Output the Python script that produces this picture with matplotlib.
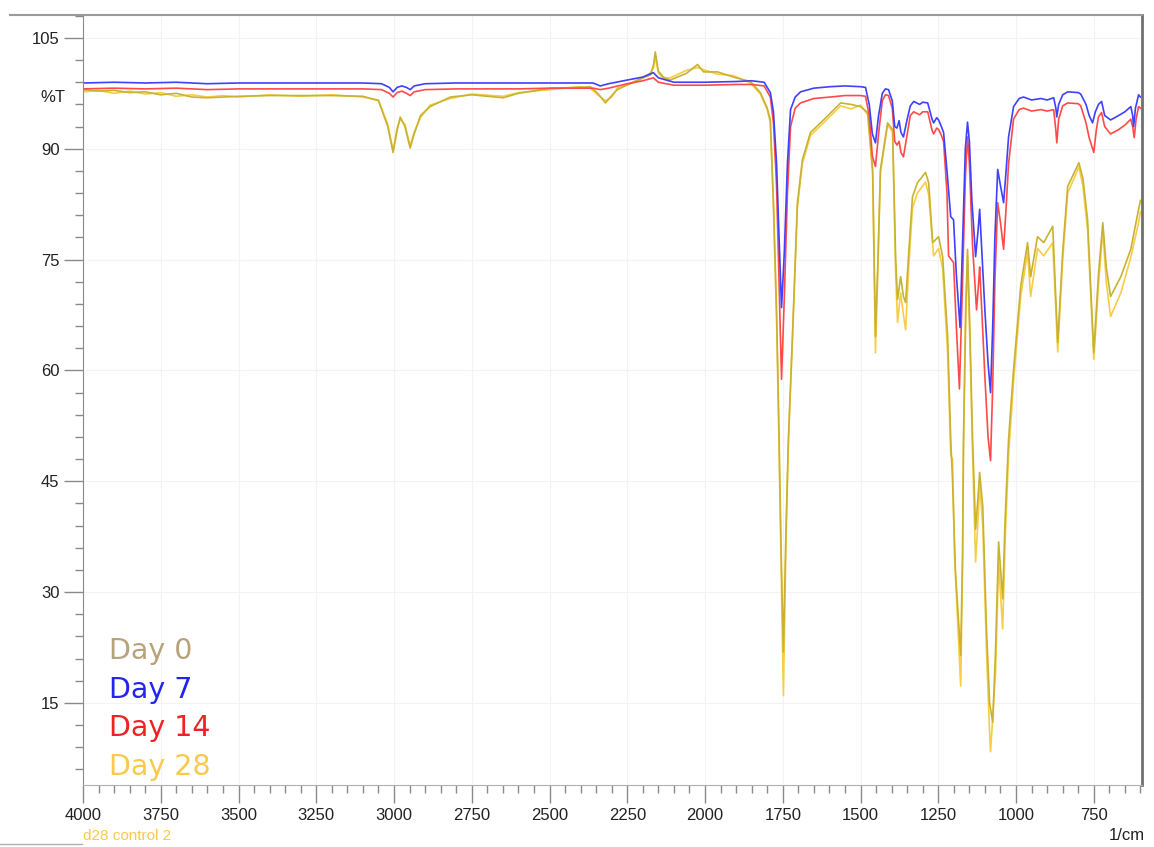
import numpy as np
import matplotlib
matplotlib.use("Agg")
import matplotlib.pyplot as plt
from matplotlib.lines import Line2D
from matplotlib.ticker import MultipleLocator

# Day 7 (blue)
wn_d7 = [4000, 3900, 3800, 3700, 3600, 3500, 3400, 3300, 3200, 3100, 3040, 3015, 3003, 2990, 2975,
         2960, 2948, 2935, 2900, 2800, 2700, 2600, 2500, 2400, 2360, 2337, 2310, 2250, 2200, 2166,
         2150, 2100, 2000, 1900, 1850, 1810, 1790, 1780, 1770, 1762, 1754, 1745, 1735, 1725, 1710,
         1693, 1650, 1597, 1550, 1500, 1484, 1472, 1462, 1452, 1442, 1430, 1420, 1410, 1398, 1390,
         1383, 1376, 1370, 1362, 1350, 1340, 1329, 1310, 1300, 1284, 1270, 1265, 1255, 1249, 1240,
         1233, 1222, 1210, 1201, 1192, 1180, 1170, 1163, 1156, 1150, 1142, 1130, 1122, 1117, 1110,
         1100, 1090, 1082, 1075, 1068, 1059, 1050, 1040, 1032, 1024, 1008, 990, 976, 950, 920,
         900, 879, 872, 869, 863, 850, 834, 800, 792, 775, 765, 754, 745, 735, 725, 715, 696, 670,
         650, 631, 625, 622, 616, 606, 600]
t_d7 = [98.9, 99.0, 98.9, 99.0, 98.8, 98.9, 98.9, 98.9, 98.9, 98.9, 98.8, 98.3, 97.7, 98.3, 98.5,
        98.3, 98.0, 98.5, 98.8, 98.9, 98.9, 98.9, 98.9, 98.9, 98.9, 98.5, 98.8, 99.3, 99.7, 100.3,
        99.6, 99.0, 99.0, 99.1, 99.2, 99.0, 97.6, 95.0, 88.0, 78.0, 68.5, 76.0, 88.0, 95.3, 97.0,
        97.7, 98.2, 98.4, 98.5, 98.4, 98.3, 96.0, 92.0, 90.8, 94.5, 97.5, 98.1, 98.0, 96.5, 93.0,
        92.8, 93.8, 92.2, 91.6, 94.0, 95.8, 96.4, 96.0, 96.3, 96.2, 94.0, 93.5, 94.2, 93.9, 93.0,
        92.2, 87.0, 80.8, 80.4, 73.0, 65.8, 80.0, 90.0, 93.6, 91.0, 83.0, 75.4, 79.0, 81.8, 76.0,
        68.0, 61.0, 57.0, 66.0, 78.0, 87.2, 85.0, 82.7, 87.0, 91.6, 95.7, 96.8, 97.0, 96.6, 96.8,
        96.6, 96.9, 95.5, 94.3, 96.0, 97.3, 97.7, 97.6, 97.4, 96.0, 94.5, 93.5, 95.0, 96.0, 96.4,
        94.5, 93.9, 94.5, 95.0, 95.7, 94.5, 93.0, 95.5, 97.3, 97.0]

# Day 14 (red)
wn_d14 = [4000, 3900, 3800, 3700, 3600, 3500, 3400, 3300, 3200, 3100, 3040, 3015, 3003, 2990, 2975,
          2960, 2948, 2935, 2900, 2800, 2700, 2600, 2500, 2400, 2360, 2337, 2310, 2250, 2200, 2166,
          2150, 2100, 2000, 1900, 1850, 1810, 1790, 1780, 1770, 1762, 1754, 1745, 1735, 1725, 1710,
          1693, 1650, 1597, 1550, 1500, 1484, 1472, 1462, 1452, 1442, 1430, 1420, 1410, 1398, 1390,
          1383, 1376, 1370, 1362, 1350, 1340, 1329, 1310, 1300, 1284, 1270, 1265, 1255, 1249, 1240,
          1233, 1222, 1217, 1201, 1192, 1182, 1172, 1163, 1156, 1150, 1140, 1127, 1120, 1117, 1110,
          1100, 1090, 1082, 1075, 1068, 1059, 1050, 1040, 1032, 1024, 1008, 990, 976, 950, 920,
          900, 879, 872, 869, 863, 850, 834, 800, 792, 775, 765, 750, 742, 735, 725, 715, 696, 670,
          650, 631, 625, 620, 614, 606, 600]
t_d14 = [98.1, 98.2, 98.1, 98.2, 98.0, 98.1, 98.1, 98.1, 98.1, 98.1, 98.0, 97.5, 97.0, 97.6, 97.8,
         97.5, 97.2, 97.7, 98.0, 98.1, 98.1, 98.1, 98.2, 98.2, 98.2, 98.0, 98.2, 98.8, 99.2, 99.6,
         99.0, 98.6, 98.6, 98.7, 98.7, 98.5, 97.0, 93.5, 85.0, 72.0, 58.8, 70.0, 84.0, 93.0, 95.5,
         96.2, 96.8, 97.0, 97.2, 97.2, 97.1, 94.5, 89.0, 87.6, 92.0, 96.5, 97.3, 97.2, 95.5, 91.0,
         90.5, 91.0, 89.5, 88.9, 92.0, 94.5, 95.0, 94.6, 95.0, 95.0, 92.5, 92.0, 92.8, 92.6, 91.8,
         91.0, 84.0, 75.5, 74.6, 66.0, 57.5, 72.0, 86.0, 91.6, 88.0, 77.0, 68.2, 72.0, 74.0, 68.0,
         59.0, 51.0, 47.8, 58.0, 72.0, 82.7, 80.0, 76.4, 82.0, 88.0, 94.0, 95.3, 95.5, 95.1, 95.3,
         95.1, 95.3, 92.5, 90.8, 94.0, 95.8, 96.2, 96.1, 95.8, 93.5, 91.5, 89.5, 92.5, 94.3, 94.9,
         93.0, 92.0, 92.6, 93.2, 94.0, 93.0, 91.5, 94.0, 95.7, 95.5]

# Day 0 (olive)
wn_d0 = [4000, 3950, 3900, 3850, 3800, 3750, 3700, 3650, 3600, 3550, 3500, 3400, 3300, 3200, 3100,
         3050, 3020, 3003, 2990, 2980, 2965, 2948, 2935, 2915, 2884, 2819, 2750, 2649, 2600, 2497,
         2400, 2369, 2345, 2320, 2300, 2282, 2217, 2175, 2165, 2160, 2150, 2134, 2112, 2060, 2024,
         2005, 1960, 1909, 1854, 1822, 1800, 1790, 1780, 1770, 1764, 1755, 1748, 1740, 1732, 1719,
         1703, 1687, 1661, 1619, 1564, 1530, 1500, 1477, 1461, 1452, 1444, 1436, 1413, 1397, 1387,
         1381, 1371, 1362, 1355, 1345, 1333, 1317, 1291, 1281, 1268, 1249, 1236, 1220, 1210, 1204,
         1195, 1178, 1172, 1169, 1162, 1156, 1148, 1140, 1130, 1122, 1117, 1107, 1095, 1085, 1075,
         1066, 1056, 1043, 1035, 1024, 1008, 985, 963, 953, 931, 911, 882, 866, 850, 834, 798, 785,
         770, 750, 735, 721, 710, 696, 663, 631, 606, 600]
t_d0 = [98.0, 97.8, 97.9, 97.6, 97.7, 97.3, 97.5, 97.0, 96.9, 97.0, 97.1, 97.2, 97.2, 97.2, 97.1,
        96.5, 93.0, 89.5, 92.5, 94.3, 93.0, 90.1, 92.0, 94.5, 95.7, 97.0, 97.3, 96.9, 97.5, 98.2,
        98.3, 98.4, 97.5, 96.2, 97.2, 98.0, 99.3, 100.0, 101.5, 103.1, 100.5, 99.7, 99.3, 100.2, 101.4,
        100.4, 100.4, 99.7, 99.1, 97.6, 95.5, 93.9, 82.7, 68.0, 55.7, 35.0, 21.9, 38.0, 50.7, 64.6,
        82.7, 88.5, 92.2, 93.9, 96.2, 96.0, 95.7, 94.9, 87.2, 64.6, 75.0, 87.2, 93.5, 92.6, 75.0,
        69.6, 72.7, 70.0, 69.2, 76.0, 83.5, 85.4, 86.8, 85.4, 77.3, 78.1, 75.4, 64.6, 50.7, 44.9,
        33.0, 21.4, 35.0, 50.7, 68.0, 76.4, 65.0, 51.1, 38.5, 43.0, 46.2, 41.6, 25.0, 15.0, 12.4,
        22.0, 36.8, 29.1, 40.0, 50.7, 60.1, 71.4, 77.3, 72.7, 78.1, 77.3, 79.5, 63.8, 76.0, 84.9, 88.1, 86.0,
        80.4, 62.4, 73.0, 80.0, 74.0, 70.0, 72.7, 76.4, 81.8, 83.0]

# Day 28 (gold)
wn_d28 = [4000, 3950, 3900, 3850, 3800, 3750, 3700, 3650, 3600, 3550, 3500, 3400, 3300, 3200, 3100,
          3050, 3020, 3003, 2990, 2980, 2965, 2948, 2935, 2915, 2884, 2819, 2750, 2649, 2600, 2497,
          2400, 2369, 2345, 2320, 2300, 2282, 2217, 2175, 2165, 2160, 2150, 2134, 2112, 2060, 2024,
          2005, 1960, 1909, 1854, 1822, 1800, 1790, 1780, 1770, 1764, 1755, 1748, 1740, 1732, 1719,
          1703, 1687, 1661, 1619, 1564, 1530, 1500, 1477, 1461, 1452, 1444, 1436, 1413, 1397, 1387,
          1381, 1371, 1362, 1355, 1345, 1333, 1317, 1291, 1281, 1265, 1249, 1236, 1220, 1210, 1204,
          1198, 1178, 1172, 1169, 1162, 1156, 1148, 1140, 1130, 1122, 1117, 1107, 1095, 1085, 1082,
          1066, 1056, 1043, 1035, 1024, 1008, 985, 963, 953, 931, 911, 882, 866, 850, 834, 798, 785,
          770, 750, 735, 721, 710, 696, 663, 631, 606, 600]
t_d28 = [97.7, 97.9, 97.5, 97.8, 97.4, 97.6, 97.1, 97.3, 97.0, 97.2, 97.0, 97.3, 97.1, 97.3, 97.0,
         96.6, 93.3, 89.8, 92.8, 94.0, 93.3, 90.4, 92.3, 94.2, 95.9, 96.8, 97.4, 97.1, 97.6, 98.0,
         98.4, 98.2, 97.3, 96.5, 97.0, 98.2, 99.1, 100.3, 101.0, 102.5, 100.2, 99.5, 99.6, 100.6, 101.0,
         100.7, 100.1, 99.9, 98.9, 97.4, 95.3, 93.5, 82.0, 67.0, 54.0, 33.0, 16.0, 36.0, 50.0, 64.0,
         82.0, 88.0, 91.8, 93.5, 95.8, 95.4, 95.9, 94.6, 86.5, 62.4, 74.0, 86.8, 93.2, 92.3, 73.0,
         66.5, 70.5, 67.5, 65.5, 74.0, 82.0, 84.0, 85.5, 83.8, 75.5, 76.5, 73.8, 62.5, 48.5, 48.0,
         35.0, 17.3, 33.0, 49.0, 66.5, 75.5, 63.0, 49.0, 34.1, 40.0, 44.5, 39.0, 22.0, 11.0, 8.4,
         19.0, 34.0, 25.0, 37.0, 48.5, 58.5, 70.0, 76.0, 70.0, 76.5, 75.5, 77.3, 62.5, 75.0, 84.0, 87.5, 85.0,
         79.0, 61.5, 71.5, 79.0, 72.0, 67.3, 70.5, 75.3, 80.0, 81.5]

series = [
    ("Day 28", wn_d28, t_d28, "#f7cd45", "#f8c94a"),
    ("Day 0", wn_d0, t_d0, "#c9b232", "#b8a27c"),
    ("Day 14", wn_d14, t_d14, "#ff4a4a", "#ee2222"),
    ("Day 7", wn_d7, t_d7, "#4040ff", "#2424ee"),
]
legend_order = ["Day 0", "Day 7", "Day 14", "Day 28"]

fig = plt.figure(figsize=(11.54, 8.47), dpi=100)
ax = fig.add_axes([83 / 1154, 1 - 785 / 847, (1142 - 83) / 1154, (785 - 15) / 847])

for name, wn, t, col, _ in series:
    ax.plot(wn, t, color=col, lw=1.2, solid_joinstyle="round")

ax.set_xlim(4000, 595)
ax.set_ylim(3.9, 108.1)
ax.set_xticks(np.arange(4000, 700, -250))
ax.xaxis.set_minor_locator(MultipleLocator(50))
ax.set_yticks(np.arange(15, 106, 15))
ax.yaxis.set_minor_locator(MultipleLocator(3))
ax.grid(True, which="major", color="#f3f3f3", lw=0.8)
ax.set_axisbelow(True)

ax.tick_params(axis="both", which="major", length=13, width=1, color="#8a8a8a",
               labelsize=12, labelcolor="#222222")
ax.tick_params(axis="both", which="minor", length=6, width=1, color="#8a8a8a")
ax.tick_params(axis="y", which="major", length=14, pad=3)
for lab in ax.get_xticklabels() + ax.get_yticklabels():
    lab.set_family("Liberation Sans")

ax.spines["top"].set_visible(False)
ax.spines["left"].set_color("#8a8a8a")
ax.spines["bottom"].set_color("#b0b0b0")
ax.spines["right"].set_color("#707070")
ax.spines["right"].set_linewidth(2)

ax.text(-0.017, 97, "%T", transform=ax.get_yaxis_transform(), ha="right", va="center",
        fontsize=12, family="Liberation Sans", color="#222222")

fig.add_artist(Line2D([10 / 1154, 1142 / 1154], [1 - 15 / 847, 1 - 15 / 847],
                      color="#9a9a9a", lw=1.5))
fig.add_artist(Line2D([0, 82 / 1154], [1 - 844 / 847, 1 - 844 / 847], color="#b0b0b0", lw=1))

fig.text(83 / 1154, 1 - 836 / 847, "d28 control 2", color="#f8c94a", fontsize=11,
         family="Liberation Sans", va="center", ha="left")
fig.text(1145 / 1154, 1 - 835 / 847, "1/cm", color="#222222", fontsize=12,
         family="Liberation Sans", va="center", ha="right")

colors = {s[0]: s[4] for s in series}
for i, name in enumerate(legend_order):
    fig.text(109 / 1154, 1 - (651 + i * 38.5) / 847, name, color=colors[name], fontsize=20.5,
             family="DejaVu Sans", va="center", ha="left")

fig.savefig("out.png", dpi=100)
